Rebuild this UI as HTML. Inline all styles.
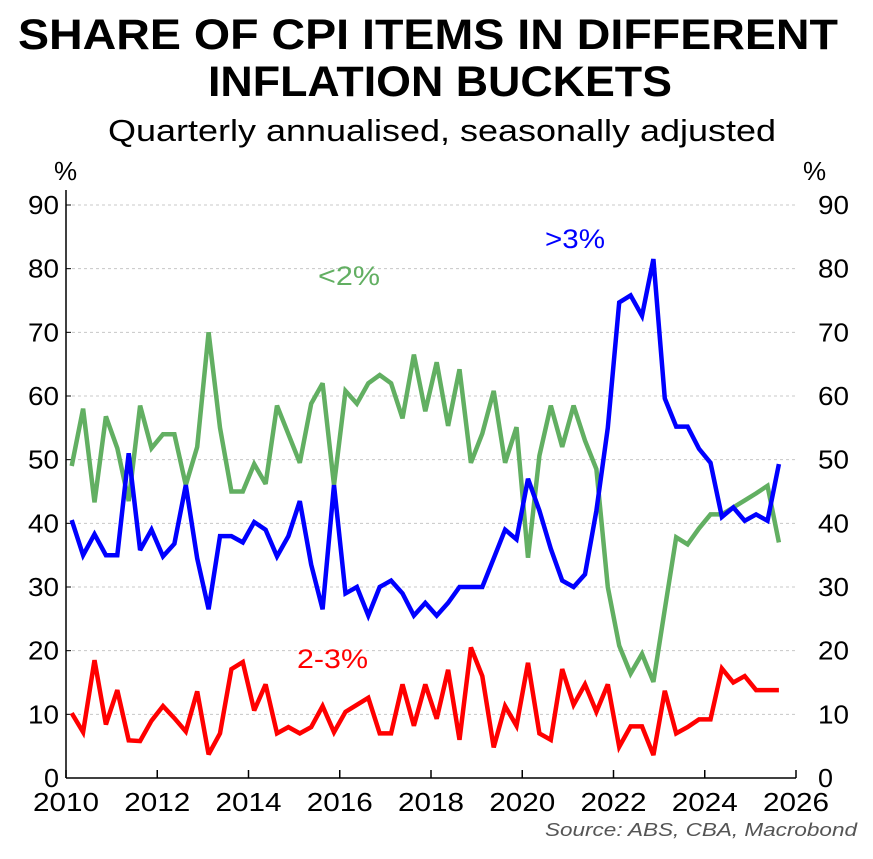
<!DOCTYPE html>
<html><head><meta charset="utf-8"><style>
body{margin:0;background:#fff;width:873px;height:854px;overflow:hidden;font-family:"Liberation Sans",Arial,sans-serif}
</style></head><body>
<svg width="873" height="854" font-family="Liberation Sans, Arial, sans-serif">
<text x="18" y="49" font-size="43" font-weight="bold" textLength="820" lengthAdjust="spacingAndGlyphs">SHARE OF CPI ITEMS IN DIFFERENT</text>
<text x="208" y="96" font-size="43" font-weight="bold" textLength="464" lengthAdjust="spacingAndGlyphs">INFLATION BUCKETS</text>
<text x="108" y="141" font-size="31" textLength="668" lengthAdjust="spacingAndGlyphs">Quarterly annualised, seasonally adjusted</text>
<text x="54" y="180" font-size="26">%</text>
<text x="803" y="180" font-size="26">%</text>
<g id="grid"></g><g id="axes"></g><g id="lines"></g>
<text x="545" y="248" font-size="27" fill="#0000ff" textLength="60" lengthAdjust="spacingAndGlyphs">&gt;3%</text>
<text x="318" y="285" font-size="27" fill="#62af62" textLength="62" lengthAdjust="spacingAndGlyphs">&lt;2%</text>
<text x="297" y="668" font-size="27" fill="#ff0000" textLength="71" lengthAdjust="spacingAndGlyphs">2-3%</text>
<text x="545" y="836" font-size="18" font-style="italic" fill="#555" textLength="312" lengthAdjust="spacingAndGlyphs">Source: ABS, CBA, Macrobond</text>
</svg>
<script>
const yTicks=[0,10,20,30,40,50,60,70,80,90];
const xTicks=[2010,2012,2014,2016,2018,2020,2022,2024,2026];
const startYear=2010.125;
const above3=[40.5,35,38.3,35,35,51,35.8,39,34.8,36.8,46,34.5,26.5,38,38,37,40.2,39,34.8,38,43.5,33.5,26.5,46,29,30,25.5,30,31,29,25.5,27.5,25.5,27.5,30,30,30,34.5,39,37.5,47,42,36,31,30,32,42,55,74.7,75.8,72.6,81.5,59.6,55.2,55.2,51.7,49.5,41,42.5,40.4,41.4,40.4,49.3];
const below2=[49,58,43.3,56.8,51.8,43.5,58.5,51.8,54,54,46,52,70,55,45,45,49.3,46.2,58.5,54,49.5,58.8,62,46,60.8,58.8,62,63.3,62,56.5,66.5,57.6,65.3,55.3,64.2,49.5,54.1,60.8,49.5,55.1,34.6,50.6,58.5,52,58.5,53,48.5,30,20.8,16.4,19.5,15.1,26.5,37.8,36.7,39.2,41.4,41.4,42.5,43.6,44.7,45.9,37];
const band23=[10.2,7.2,18.5,8.4,13.8,5.9,5.8,9,11.3,9.4,7.3,13.6,3.7,7,17.1,18.2,10.6,14.7,7,8,7,8,11.3,7.2,10.4,11.5,12.6,7,7,14.7,8.2,14.7,9.3,17,6,20.5,16,4.8,11.3,8.2,18.1,7,6,17.1,11.5,14.7,10.4,14.7,4.9,8.1,8.1,3.6,13.7,7,8,9.2,9.2,17.2,15,16,13.8,13.8,13.8];
const NS='http://www.w3.org/2000/svg';
const X0=66,X1=796,Y0=778,Y1=205;
const xs=t=>X0+(t-2010)/16*(X1-X0);
const ys=v=>Y0-v/90*(Y0-Y1);
function mk(tag,attrs,parent){const e=document.createElementNS(NS,tag);for(const k in attrs)e.setAttribute(k,attrs[k]);parent.appendChild(e);return e;}
const grid=document.getElementById('grid'),axes=document.getElementById('axes'),lines=document.getElementById('lines');
yTicks.forEach(v=>{
  if(v>0){const g=mk('line',{x1:X0,x2:X1,y1:ys(v),y2:ys(v),stroke:'#c8c8c8','stroke-dasharray':'3,3','stroke-width':1},grid);
  
  }
  const l=mk('text',{x:X0-7,y:ys(v)+9,'text-anchor':'end','font-size':26,textLength:(v<10?15:31),lengthAdjust:'spacingAndGlyphs'},axes);l.textContent=v;
  
  
  const r=mk('text',{x:X1+22,y:ys(v)+9,'text-anchor':'start','font-size':26,textLength:(v<10?15:31),lengthAdjust:'spacingAndGlyphs'},axes);r.textContent=v;
  
  
  const t=mk('line',{x1:X0,x2:X0+5,y1:ys(v),y2:ys(v),stroke:'#000'},axes);
  
  
});
xTicks.forEach(y=>{
  const t=mk('line',{x1:xs(y),x2:xs(y),y1:Y0,y2:Y0-8,stroke:'#000','stroke-width':1.5},axes);
  
  
  const l=mk('text',{x:xs(y)-33,y:Y0+33,'font-size':26,textLength:66,lengthAdjust:'spacingAndGlyphs'},axes);l.textContent=y;
  
  
});
const la=mk('line',{x1:X0,x2:X0,y1:Y1-15,y2:Y0,stroke:'#000','stroke-width':1.5},axes);


const ba=mk('line',{x1:X0,x2:X1,y1:Y0,y2:Y0,stroke:'#000','stroke-width':1.5},axes);


function series(arr,color,name){
  const pts=arr.map((v,i)=>xs(startYear+i*0.25).toFixed(1)+','+ys(v).toFixed(1)).join(' ');
  const p=mk('polyline',{points:pts,fill:'none',stroke:color,'stroke-width':4.5,'stroke-linejoin':'miter','stroke-miterlimit':3},lines);
  
  
}
series(below2,'#62af62','line-below-2');
series(band23,'#ff0000','line-2-3');
series(above3,'#0000ff','line-above-3');
</script>
</body></html>
